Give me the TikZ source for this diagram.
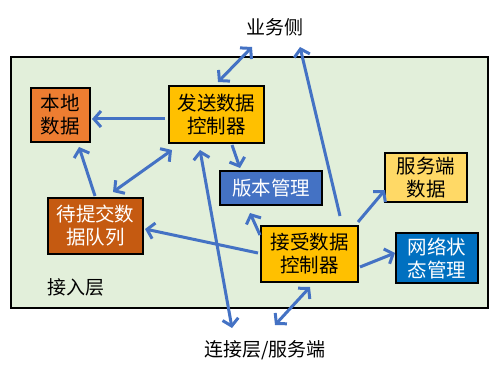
\documentclass[tikz,border=0pt]{standalone}
\usepackage{fontspec}
\setmainfont{Noto Sans CJK SC}
\usetikzlibrary{arrows.meta}
\definecolor{bgreen}{HTML}{E2EFDA}
\definecolor{corange}{HTML}{ED7D31}
\definecolor{cbrown}{HTML}{C55A11}
\definecolor{cgold}{HTML}{FFC000}
\definecolor{clgold}{HTML}{FFD966}
\definecolor{cblue}{HTML}{4472C4}
\definecolor{cdblue}{HTML}{0070C0}
\tikzset{
  box/.style={draw=black, line width=1.8pt, inner sep=0pt, align=center,
    font=\fontsize{19.5}{23}\selectfont},
  lbl/.style={inner sep=0pt, font=\fontsize{19}{23}\selectfont},
  arr/.style={draw=cblue, line width=3pt, -{Straight Barb[length=7pt,width=16pt]}},
  darr/.style={draw=cblue, line width=3pt, {Straight Barb[length=7pt,width=16pt]}-{Straight Barb[length=7pt,width=16pt]}}
}
\begin{document}
\begin{tikzpicture}[x=1pt,y=-1pt]
\useasboundingbox (0,0) rectangle (499,369);
\fill[white] (0,0) rectangle (499,369);
\node[draw=black, line width=1.8pt, fill=bgreen, minimum width=477pt, minimum height=251pt, inner sep=0pt] (outer) at (249.5,182.5) {};
\node[box, fill=corange, minimum width=59pt, minimum height=54pt] (bd) at (60.5,115) {本地\\数据};
\node[box, fill=cgold, minimum width=95pt, minimum height=57pt] (fs) at (216.5,114.5) {发送数据\\控制器};
\node[box, fill=cblue, text=white, minimum width=102pt, minimum height=34pt] (bb) at (271,188) {版本管理};
\node[box, fill=cbrown, text=white, minimum width=95pt, minimum height=56pt] (dt) at (95.5,226) {待提交数\\据队列};
\node[box, fill=cgold, minimum width=97pt, minimum height=56pt] (js) at (309.5,254) {接受数据\\控制器};
\node[box, fill=clgold, minimum width=82pt, minimum height=49pt] (fw) at (426,177.5) {服务端\\数据};
\node[box, fill=cdblue, text=white, minimum width=82pt, minimum height=50pt] (wl) at (437,258) {网络状\\态管理};
\node[lbl] (ywc) at (275,27) {业务侧};
\node[lbl] (ljc) at (265,350) {连接层/服务端};
\node[lbl] (jrc) at (76,287) {接入层};
% arrows
\draw[arr] ([shift={(-51.5,4.5)}]fs.center) -- ([shift={(31.5,4)}]bd.center);
\draw[darr] ([shift={(-23,20)}]ywc.center) -- ([shift={(1.5,-32.5)}]fs.center);
\draw[arr] ([shift={(30.5,-38)}]js.center) -- ([shift={(25,20)}]ywc.center);
\draw[arr] ([shift={(-0.5,-30)}]dt.center) -- ([shift={(18.5,32)}]bd.center);
\draw[darr] ([shift={(17.5,-34)}]dt.center) -- ([shift={(-44.5,35.5)}]fs.center);
\draw[darr] ([shift={(-33,-22)}]ljc.center) -- ([shift={(-16.5,35.5)}]fs.center);
\draw[arr] ([shift={(15.5,30.5)}]fs.center) -- ([shift={(-31,-20)}]bb.center);
\draw[arr] ([shift={(-49.5,-19)}]js.center) -- ([shift={(-21,25)}]bb.center);
\draw[arr] ([shift={(-51.5,-1)}]js.center) -- ([shift={(49.5,3)}]dt.center);
\draw[arr] ([shift={(48.5,-32)}]js.center) -- ([shift={(-41,12.5)}]fw.center);
\draw[arr] ([shift={(50.5,13)}]js.center) -- ([shift={(-42,-5)}]wl.center);
\draw[darr] ([shift={(10,-25)}]ljc.center) -- ([shift={(0.5,33)}]js.center);
\end{tikzpicture}
\end{document}
